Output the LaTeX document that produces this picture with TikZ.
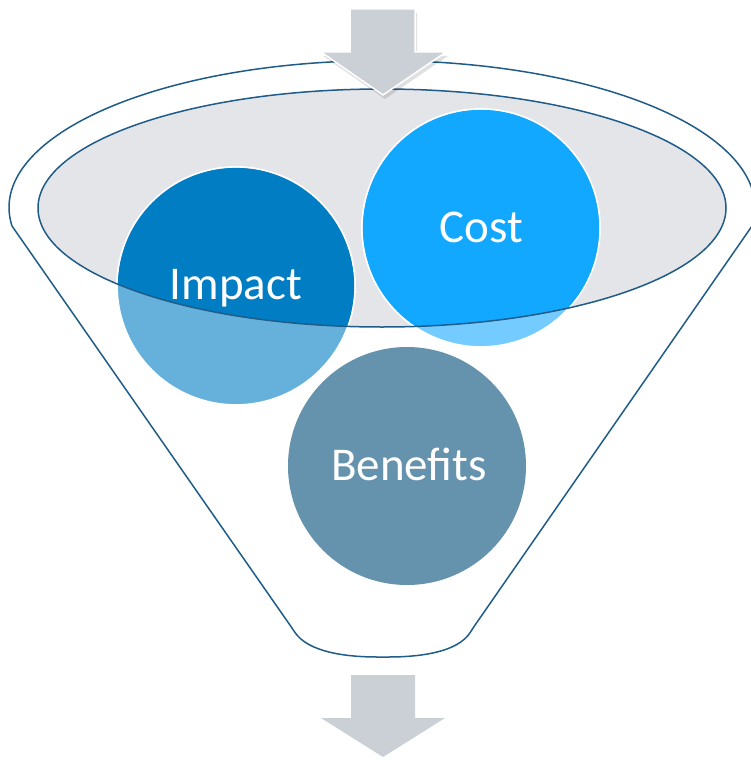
\documentclass[tikz,border=0pt]{standalone}
\usepackage{fontspec}
\setmainfont{Carlito}
\usetikzlibrary{shadows}
\definecolor{funnelline}{HTML}{1F5C88}
\definecolor{funnelfill}{HTML}{E4E5E9}
\definecolor{arrowgray}{HTML}{CBD0D6}
\definecolor{impactdark}{HTML}{007DC3}
\definecolor{impactlight}{HTML}{66B1DB}
\definecolor{costdark}{HTML}{12A8FF}
\definecolor{costlight}{HTML}{74CBFF}
\definecolor{benefitcol}{HTML}{6592AD}
\tikzset{
  funneledge/.style={draw=funnelline, line width=1.5pt},
  ballbase/.style={circle, minimum size=238pt, inner sep=0pt, draw=white, line width=1.8pt},
  balltext/.style={text=white, font=\fontsize{47}{47}\selectfont, anchor=base, inner sep=0pt},
  bigarrow/.style={fill=arrowgray},
}
\begin{document}
\begin{tikzpicture}[x=1pt, y=-1pt]
\useasboundingbox (0,0) rectangle (751,760);
% outer funnel outline
\coordinate (ol) at (12,226);
\coordinate (or) at (752,226);
\coordinate (bl) at (292,628);
\coordinate (br) at (473,628);
\draw[funneledge, rounded corners=5pt]
  (ol) -- (bl) .. controls (308,652) and (345,657) .. (383,657)
  .. controls (421,657) and (458,652) .. (br) -- (or);
\draw[funneledge] (ol) arc[start angle=187.2, end angle=-7.2, x radius=373, y radius=-147];
% inner ellipse fill
\coordinate (ec) at (382,208);
\fill[funnelfill] (ec) ellipse[x radius=344, y radius=119];
% circles
\node[ballbase, fill=impactlight] (impact) at (236,286) {};
\begin{scope}
  \clip (ec) ellipse[x radius=344, y radius=119];
  \fill[impactdark] (impact.center) circle[radius=118.1];
\end{scope}
\node[ballbase, fill=costlight] (cost) at (481,228) {};
\begin{scope}
  \clip (ec) ellipse[x radius=344, y radius=119];
  \fill[costdark] (cost.center) circle[radius=118.1];
\end{scope}
\node[ballbase, fill=benefitcol, draw=none] (benefits) at (407,466) {};
% inner ellipse outline on top
\draw[funneledge] (ec) ellipse[x radius=344, y radius=119];
% texts
\node[balltext] (impactlabel) at (236,299) {Impact};
\node[balltext] (costlabel) at (481.5,242) {Cost};
\node[balltext] (benefitslabel) at (409,480) {Benefits};
% top arrow
\fill[black, opacity=0.12] (352,13) -- (417,13) -- (417,56) -- (448,56) -- (385,99) -- (323,56) -- (352,56) -- cycle;
\draw[bigarrow, draw=white, line width=1.5pt, line join=miter]
  (350,9) -- (415,9) -- (415,52) -- (446,52) -- (383,95) -- (321,52) -- (350,52) -- cycle;
% bottom arrow
\fill[bigarrow] (351,675) -- (415,675) -- (415,718) -- (445,718) -- (383,757) -- (321,718) -- (351,718) -- cycle;
\end{tikzpicture}
\end{document}
